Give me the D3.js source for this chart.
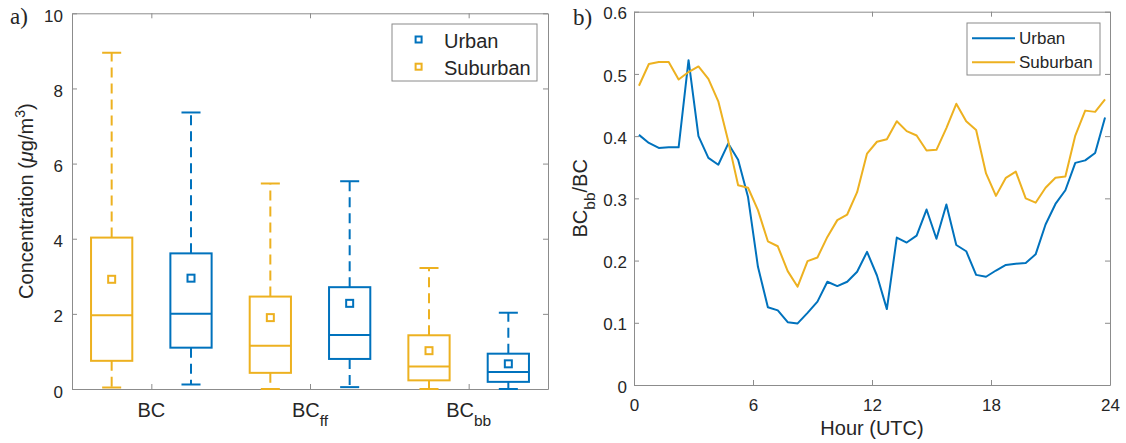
<!DOCTYPE html>
<html><head><meta charset="utf-8">
<script src="https://cdn.jsdelivr.net/npm/d3@7"></script>
<style>
body{margin:0;background:#fff}
svg{display:block}
text{font-family:"Liberation Sans",Arial,Helvetica,sans-serif;fill:#262626}
</style>
</head><body>
<svg id="chart" width="1126" height="443"></svg>
<script>
// ---------- data: panel a (box plots) ----------
const categoryBase = ["BC", "BC", "BC"];
const categorySub  = ["", "ff", "bb"];
const seriesNames  = ["Urban", "Suburban"];

const urbanLow    = [0.12, 0.05, 0.00];
const urbanQ1     = [1.10, 0.80, 0.19];
const urbanMedian = [2.00, 1.44, 0.45];
const urbanQ3     = [3.61, 2.71, 0.94];
const urbanHigh   = [7.36, 5.53, 2.03];
const urbanMean   = [2.95, 2.28, 0.67];

const suburbanLow    = [0.04, 0.00, 0.00];
const suburbanQ1     = [0.75, 0.43, 0.23];
const suburbanMedian = [1.96, 1.15, 0.60];
const suburbanQ3     = [4.03, 2.46, 1.43];
const suburbanHigh   = [8.95, 5.47, 3.22];
const suburbanMean   = [2.92, 1.90, 1.02];

const concTicks = [0, 2, 4, 6, 8, 10];

// ---------- data: panel b (diurnal ratio) ----------
const hours = [0.25,0.75,1.25,1.75,2.25,2.75,3.25,3.75,4.25,4.75,5.25,5.75,
               6.25,6.75,7.25,7.75,8.25,8.75,9.25,9.75,10.25,10.75,11.25,11.75,
               12.25,12.75,13.25,13.75,14.25,14.75,15.25,15.75,16.25,16.75,17.25,17.75,
               18.25,18.75,19.25,19.75,20.25,20.75,21.25,21.75,22.25,22.75,23.25,23.75];
const urbanRatio = [0.402,0.389,0.381,0.382,0.382,0.522,0.400,0.365,0.354,0.388,0.362,0.302,
                    0.190,0.125,0.120,0.101,0.099,0.116,0.134,0.166,0.159,0.166,0.182,0.214,
                    0.176,0.122,0.237,0.229,0.240,0.282,0.235,0.290,0.225,0.215,0.177,0.174,
                    0.184,0.193,0.195,0.196,0.210,0.258,0.291,0.313,0.357,0.361,0.373,0.430];
const suburbanRatio = [0.481,0.516,0.519,0.519,0.491,0.503,0.512,0.492,0.456,0.392,0.321,0.317,
                       0.281,0.231,0.223,0.183,0.158,0.199,0.205,0.238,0.265,0.274,0.310,0.372,
                       0.391,0.395,0.424,0.408,0.401,0.377,0.378,0.413,0.452,0.424,0.410,0.340,
                       0.304,0.333,0.343,0.300,0.293,0.317,0.333,0.335,0.401,0.441,0.439,0.459];
const hourTicks  = [0, 6, 12, 18, 24];
const ratioTicks = [0, 0.1, 0.2, 0.3, 0.4, 0.5, 0.6];

// ---------- styles ----------
const BLUE = "#0072BD", ORANGE = "#EDB120", FRAME = "#8c8c8c";

const svg = d3.select("#chart");

function styleAxis(g, fs) {
  g.select(".domain").attr("stroke", FRAME).attr("stroke-width", 1);
  g.selectAll(".tick line").attr("stroke", FRAME).attr("stroke-width", 1);
  g.selectAll(".tick text").attr("fill", "#262626").style("font-size", fs + "px")
    .attr("font-family", "Liberation Sans, Arial, sans-serif");
}

// =============== Panel a ===============
const xA = d3.scaleLinear().domain([0.5, 3.5]).range([72, 548]);
const yA = d3.scaleLinear().domain([0, 10]).range([389, 13.3]);
const gA = svg.append("g");

gA.append("g").attr("transform", `translate(${xA(0.5)},0)`)
  .call(d3.axisLeft(yA).tickValues(concTicks).tickFormat(d3.format("d")).tickSizeInner(-5).tickSizeOuter(0).tickPadding(9))
  .call(g => { styleAxis(g, 17); g.selectAll(".tick text").attr("dy", "0.47em"); });
gA.append("g").attr("transform", `translate(${xA(3.5)},0)`)
  .call(d3.axisRight(yA).tickValues(concTicks).tickFormat("").tickSizeInner(-5).tickSizeOuter(0))
  .call(g => styleAxis(g, 17));
gA.append("g").attr("transform", `translate(0,${yA(0)})`)
  .call(d3.axisBottom(xA).tickValues([1, 2, 3]).tickFormat("").tickSizeInner(-5).tickSizeOuter(0))
  .call(g => styleAxis(g, 17));
gA.append("g").attr("transform", `translate(0,${yA(10)})`)
  .call(d3.axisTop(xA).tickValues([1, 2, 3]).tickFormat("").tickSizeInner(-5).tickSizeOuter(0))
  .call(g => styleAxis(g, 17));

// category labels with subscripts
categoryBase.forEach((b, i) => {
  const t = gA.append("text").attr("x", xA(i + 1)).attr("y", 417.3)
    .attr("text-anchor", "middle").style("font-size", "20px");
  t.append("tspan").text(b);
  if (categorySub[i]) t.append("tspan").attr("dy", 9).style("font-size", "15.5px").text(categorySub[i]);
});

// box plots
const groups = [
  {name: "Suburban", color: ORANGE, offset: -0.25, low: suburbanLow, q1: suburbanQ1, med: suburbanMedian, q3: suburbanQ3, high: suburbanHigh, mean: suburbanMean},
  {name: "Urban", color: BLUE, offset: 0.25, low: urbanLow, q1: urbanQ1, med: urbanMedian, q3: urbanQ3, high: urbanHigh, mean: urbanMean}
];
const boxW = 0.26, capW = 0.12;
groups.forEach(gr => {
  categoryBase.forEach((_, i) => {
    const c = i + 1 + gr.offset;
    const g = gA.append("g").attr("stroke", gr.color).attr("stroke-width", 2).attr("fill", "none");
    // whiskers
    g.append("line").attr("x1", xA(c)).attr("x2", xA(c)).attr("y1", yA(gr.q3[i])).attr("y2", yA(gr.high[i])).attr("stroke-dasharray", "10,6");
    g.append("line").attr("x1", xA(c)).attr("x2", xA(c)).attr("y1", yA(gr.q1[i])).attr("y2", yA(gr.low[i])).attr("stroke-dasharray", "10,6");
    // caps
    g.append("line").attr("x1", xA(c - capW / 2)).attr("x2", xA(c + capW / 2)).attr("y1", yA(gr.high[i])).attr("y2", yA(gr.high[i]));
    g.append("line").attr("x1", xA(c - capW / 2)).attr("x2", xA(c + capW / 2)).attr("y1", yA(gr.low[i])).attr("y2", yA(gr.low[i]));
    // box
    g.append("rect").attr("x", xA(c - boxW / 2)).attr("y", yA(gr.q3[i]))
      .attr("width", xA(c + boxW / 2) - xA(c - boxW / 2)).attr("height", yA(gr.q1[i]) - yA(gr.q3[i]));
    // median
    g.append("line").attr("x1", xA(c - boxW / 2)).attr("x2", xA(c + boxW / 2)).attr("y1", yA(gr.med[i])).attr("y2", yA(gr.med[i]));
    // mean marker
    g.append("rect").attr("x", xA(c) - 3.5).attr("y", yA(gr.mean[i]) - 3.5).attr("width", 7).attr("height", 7);
  });
});

// legend a
const legA = gA.append("g");
legA.append("rect").attr("x", 392).attr("y", 24).attr("width", 145).attr("height", 57)
  .attr("fill", "#fff").attr("stroke", "#8a8a8a").attr("stroke-width", 1);
[{n: seriesNames[0], c: BLUE, y: 39.5}, {n: seriesNames[1], c: ORANGE, y: 66.7}].forEach(e => {
  legA.append("rect").attr("x", 418.6 - 3).attr("y", e.y - 3).attr("width", 6).attr("height", 6)
    .attr("fill", "none").attr("stroke", e.c).attr("stroke-width", 2);
  legA.append("text").attr("x", 444).attr("y", e.y + 8.3).style("font-size", "20px").text(e.n);
});

// y label a
const ylA = gA.append("text").attr("transform", `translate(33,${(yA(0) + yA(10)) / 2}) rotate(-90)`)
  .attr("text-anchor", "middle").style("font-size", "20px");
ylA.append("tspan").text("Concentration (");
ylA.append("tspan").style("font-style", "italic").text("μ");
ylA.append("tspan").text("g/m");
ylA.append("tspan").attr("dy", -8).style("font-size", "14px").text("3");
ylA.append("tspan").attr("dy", 8).text(")");

// panel letter
svg.append("text").attr("x", 10).attr("y", 24).style("font-family", "Liberation Serif, Times New Roman, serif")
  .style("font-size", "23px").attr("fill", "#111").text("a)");

// =============== Panel b ===============
const xB = d3.scaleLinear().domain([0, 24]).range([634, 1110]);
const yB = d3.scaleLinear().domain([0, 0.6]).range([385, 11.7]);
const gB = svg.append("g");
const fmtR = d => d === 0 ? "0" : d3.format(".1f")(d);

gB.append("g").attr("transform", `translate(${xB(0)},0)`)
  .call(d3.axisLeft(yB).tickValues(ratioTicks).tickFormat(fmtR).tickSizeInner(-5).tickSizeOuter(0).tickPadding(7))
  .call(g => { styleAxis(g, 17); g.selectAll(".tick text").attr("dy", "0.42em"); });
gB.append("g").attr("transform", `translate(${xB(24)},0)`)
  .call(d3.axisRight(yB).tickValues(ratioTicks).tickFormat("").tickSizeInner(-5).tickSizeOuter(0))
  .call(g => styleAxis(g, 17));
gB.append("g").attr("transform", `translate(0,${yB(0)})`)
  .call(d3.axisBottom(xB).tickValues(hourTicks).tickFormat(d3.format("d")).tickSizeInner(-5).tickSizeOuter(0).tickPadding(13.6))
  .call(g => styleAxis(g, 17));
gB.append("g").attr("transform", `translate(0,${yB(0.6)})`)
  .call(d3.axisTop(xB).tickValues(hourTicks).tickFormat("").tickSizeInner(-5).tickSizeOuter(0))
  .call(g => styleAxis(g, 17));

const line = d3.line().x(d => xB(d[0])).y(d => yB(d[1]));
gB.append("path").datum(hours.map((h, i) => [h, urbanRatio[i]])).attr("d", line)
  .attr("fill", "none").attr("stroke", BLUE).attr("stroke-width", 2).attr("stroke-linejoin", "round");
gB.append("path").datum(hours.map((h, i) => [h, suburbanRatio[i]])).attr("d", line)
  .attr("fill", "none").attr("stroke", ORANGE).attr("stroke-width", 2).attr("stroke-linejoin", "round");

// legend b
const legB = gB.append("g");
legB.append("rect").attr("x", 967).attr("y", 23).attr("width", 133).attr("height", 52)
  .attr("fill", "#fff").attr("stroke", "#8a8a8a").attr("stroke-width", 1);
[{n: seriesNames[0], c: BLUE, y: 38.3}, {n: seriesNames[1], c: ORANGE, y: 62.3}].forEach(e => {
  legB.append("line").attr("x1", 972).attr("x2", 1015).attr("y1", e.y).attr("y2", e.y)
    .attr("stroke", e.c).attr("stroke-width", 2);
  legB.append("text").attr("x", 1019).attr("y", e.y + 6).style("font-size", "17px").text(e.n);
});

// axis labels b
gB.append("text").attr("x", (xB(0) + xB(24)) / 2).attr("y", 435).attr("text-anchor", "middle")
  .style("font-size", "20px").text("Hour (UTC)");
const ylB = gB.append("text").attr("transform", `translate(587,${(yB(0) + yB(0.6)) / 2}) rotate(-90)`)
  .attr("text-anchor", "middle").style("font-size", "20px");
ylB.append("tspan").text("BC");
ylB.append("tspan").attr("dy", 8).style("font-size", "15.5px").text("bb");
ylB.append("tspan").attr("dy", -8).text("/BC");

svg.append("text").attr("x", 573).attr("y", 25).style("font-family", "Liberation Serif, Times New Roman, serif")
  .style("font-size", "23px").attr("fill", "#111").text("b)");
</script>
</body></html>
